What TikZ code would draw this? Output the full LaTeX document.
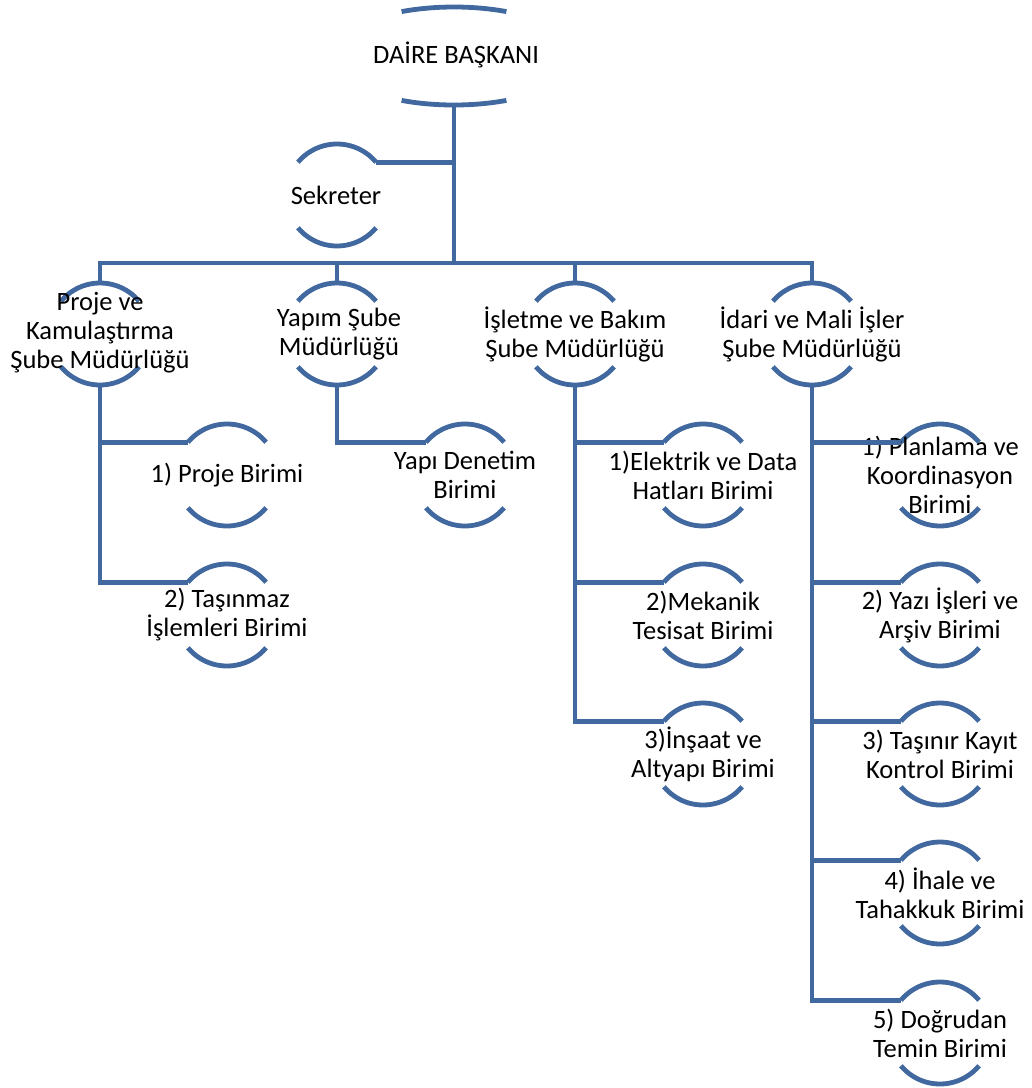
\documentclass[tikz,border=0pt]{standalone}
\usepackage{fontspec}
\setmainfont{Carlito}
\definecolor{orgblue}{RGB}{65,105,160}
\begin{document}
\begin{tikzpicture}[x=1pt,y=1pt,
  ln/.style={draw=orgblue, line width=4.8pt},
  ring/.style={circle, minimum size=102pt, inner sep=0pt, outer sep=0pt},
  txt/.style={align=center, inner sep=0pt, font=\fontsize{26.5}{29}\selectfont, text=black}]
\useasboundingbox (0,0) rectangle (1032,-1088);

% head
\node[txt] (da) at (456,-55) {DAİRE BAŞKANI};
\coordinate (dac) at (454,-56);
\coordinate (dabot) at (454,-105);
\coordinate (bus) at (454,-263);
\draw[ln] ([shift={(65:124pt and 49pt)}]dac) arc[start angle=65,end angle=115,x radius=124pt,y radius=49pt];
\draw[ln] ([shift={(245:124pt and 49pt)}]dac) arc[start angle=245,end angle=295,x radius=124pt,y radius=49pt];

% rings
\node[ring] (sek) at (337,-195) {};
\node[ring] (pk) at (100,-334) {};
\node[ring] (ys) at (337,-334) {};
\node[ring] (ib) at (575,-334) {};
\node[ring] (im) at (812,-334) {};
\node[ring] (pb) at (227,-475) {};
\node[ring] (pt) at (227,-615) {};
\node[ring] (yd) at (465,-475) {};
\node[ring] (e1) at (703,-475) {};
\node[ring] (e2) at (703,-615) {};
\node[ring] (e3) at (703,-754) {};
\node[ring] (i1) at (940,-475) {};
\node[ring] (i2) at (940,-615) {};
\node[ring] (i3) at (940,-754) {};
\node[ring] (i4) at (940,-893) {};
\node[ring] (i5) at (940,-1033) {};

\foreach \n in {sek,pk,ys,ib,im,pb,pt,yd,e1,e2,e3,i1,i2,i3,i4,i5} {
  \draw[ln] (\n.40) arc[start angle=40,end angle=140,radius=51pt];
  \draw[ln] (\n.220) arc[start angle=220,end angle=320,radius=51pt];
}

% texts
\node[txt] (tsek) at (336,-195) {Sekreter};
\node[txt] (tpk) at (100,-333) {Proje ve\\Kamulaştırma\\Şube Müdürlüğü};
\node[txt] (tys) at (339,-334) {Yapım Şube\\Müdürlüğü};
\node[txt] (tib) at (ib) {İşletme ve Bakım\\Şube Müdürlüğü};
\node[txt] (tim) at (im) {İdari ve Mali İşler\\Şube Müdürlüğü};
\node[txt] (tpb) at (pb) {1) Proje Birimi};
\node[txt] (tpt) at (pt) {2) Taşınmaz\\İşlemleri Birimi};
\node[txt] (tyd) at (yd) {Yapı Denetim\\Birimi};
\node[txt] (te1) at (e1) {1)Elektrik ve Data\\Hatları Birimi};
\node[txt] (te2) at (e2) {2)Mekanik\\Tesisat Birimi};
\node[txt] (te3) at (e3) {3)İnşaat ve\\Altyapı Birimi};
\node[txt] (ti1) at (i1) {1) Planlama ve\\Koordinasyon\\Birimi};
\node[txt] (ti2) at (i2) {2) Yazı İşleri ve\\Arşiv Birimi};
\node[txt] (ti3) at (i3) {3) Taşınır Kayıt\\Kontrol Birimi};
\node[txt] (ti4) at (i4) {4) İhale ve\\Tahakkuk Birimi};
\node[txt] (ti5) at (i5) {5) Doğrudan\\Temin Birimi};

% connectors
\draw[ln] (dabot) -- (bus);
\draw[ln] (sek.40) -- (sek.40 -| bus);
\draw[ln] (bus) -| (pk.north);
\draw[ln] (bus) -| (ys.north);
\draw[ln] (bus) -| (ib.north);
\draw[ln] (bus) -| (im.north);

\draw[ln] (pk.south) |- (pt.140);
\draw[ln] (pk.south) |- (pb.140);
\draw[ln] (ys.south) |- (yd.140);
\draw[ln] (ib.south) |- (e3.140);
\draw[ln] (ib.south) |- (e2.140);
\draw[ln] (ib.south) |- (e1.140);
\draw[ln] (im.south) |- (i5.140);
\draw[ln] (im.south) |- (i4.140);
\draw[ln] (im.south) |- (i3.140);
\draw[ln] (im.south) |- (i2.140);
\draw[ln] (im.south) |- (i1.140);
\end{tikzpicture}
\end{document}
